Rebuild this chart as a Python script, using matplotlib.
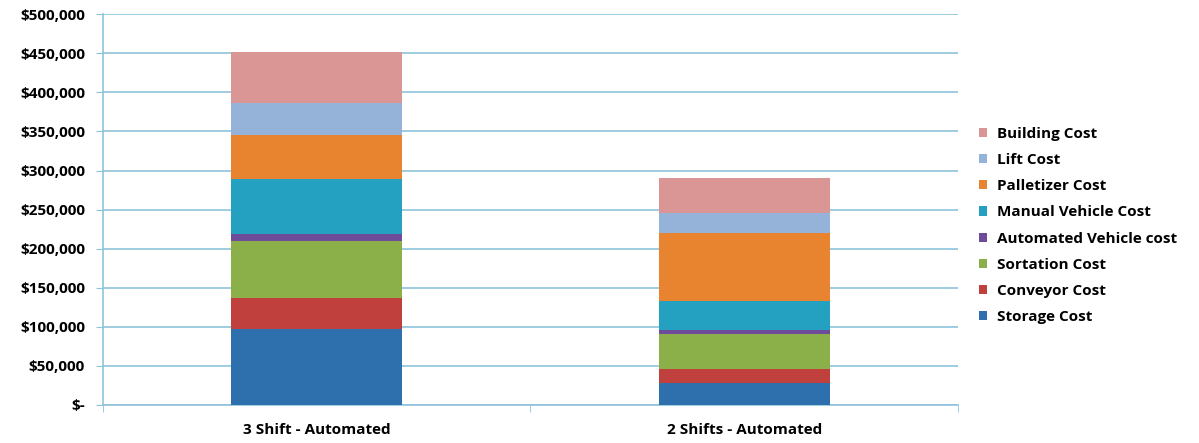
import matplotlib.pyplot as plt
from matplotlib.ticker import FuncFormatter, FixedLocator

# datos
categories = ["3 Shift - Automated", "2 Shifts - Automated"]
components = ["Storage Cost", "Conveyor Cost", "Sortation Cost", "Automated Vehicle cost",
              "Manual Vehicle Cost", "Palletizer Cost", "Lift Cost", "Building Cost"]
storage = [97000, 28500]
conveyor = [40000, 17500]
sortation = [73000, 44500]
automated_vehicle = [9000, 5500]
manual_vehicle = [70000, 37500]
palletizer = [57000, 86000]
lift = [40000, 26500]
building = [65000, 44000]
series = [storage, conveyor, sortation, automated_vehicle,
          manual_vehicle, palletizer, lift, building]
colors = ["#2e6fad", "#c0403d", "#8bb04a", "#6f4c99",
          "#24a0c0", "#e8842f", "#95b3d8", "#d99694"]

plt.rcParams['font.family'] = ['Open Sans', 'DejaVu Sans']
FS = 11

fig = plt.figure(figsize=(11.99, 4.43), dpi=100)
ax = fig.add_axes([0.0859, 0.0858, 0.7131, 0.8822])

x = list(range(len(categories)))
bottom = [0, 0]
handles = []
for vals, name, col in zip(series, components, colors):
    b = ax.bar(x, vals, width=0.4, bottom=bottom, color=col, label=name, zorder=3)
    handles.append(b)
    bottom = [a + v for a, v in zip(bottom, vals)]

grid_col = "#8ec3da"
ax.set_ylim(0, 500000)
ax.set_xlim(-0.5, 1.5)
ax.set_yticks(range(0, 500001, 50000))
ax.yaxis.set_major_formatter(FuncFormatter(lambda v, p: "$-" if v == 0 else f"${v:,.0f}"))
ax.grid(axis="y", color=grid_col, linewidth=1.2, zorder=0)
ax.set_xticks(x)
ax.set_xticklabels(categories)
ax.xaxis.set_minor_locator(FixedLocator([-0.5, 0.5, 1.5]))
ax.tick_params(axis="x", which="major", length=0, pad=13)
ax.tick_params(axis="x", which="minor", length=5, color=grid_col)
ax.tick_params(axis="y", length=5, color=grid_col, pad=8)
for lab in ax.get_xticklabels() + ax.get_yticklabels():
    lab.set_fontweight("bold")
    lab.set_fontsize(FS)
for s in ["top", "right"]:
    ax.spines[s].set_visible(False)
for s in ["left", "bottom"]:
    ax.spines[s].set_color(grid_col)
    ax.spines[s].set_linewidth(1.2)

leg = fig.legend(handles[::-1], components[::-1], loc="upper left",
                 bbox_to_anchor=(0.805, 0.745), frameon=False,
                 prop={"weight": "bold", "size": FS},
                 handlelength=0.55, handleheight=0.55, handletextpad=0.6,
                 labelspacing=0.8)

fig.savefig("out.png", dpi=100)
